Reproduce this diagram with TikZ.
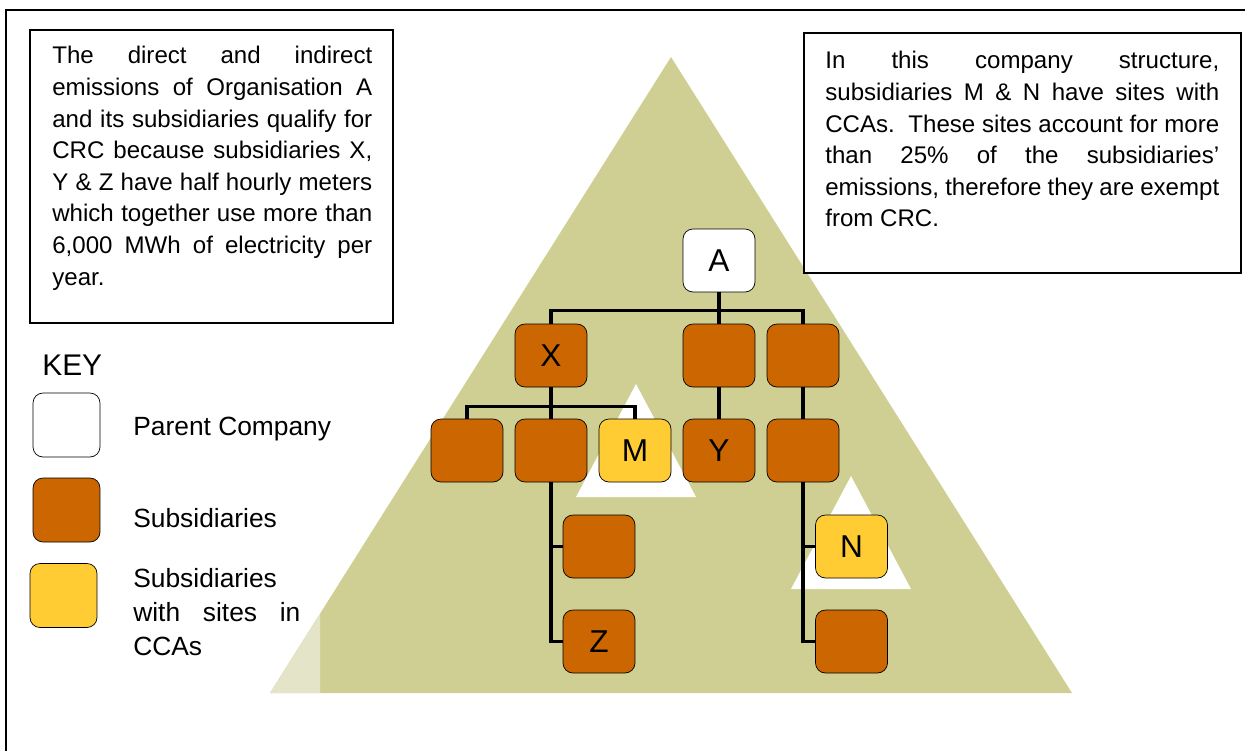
\documentclass[tikz,border=0pt]{standalone}
\usepackage{fontspec}
\setmainfont{Liberation Sans}
\definecolor{pyramid}{HTML}{CFCF93}
\definecolor{pyramidlight}{HTML}{E4E4C8}
\definecolor{subs}{HTML}{CC6600}
\definecolor{cca}{HTML}{FFCC33}
\hyphenpenalty=10000
\begin{document}
\begin{tikzpicture}[x=0.02cm, y=-0.02cm,
            org/.style={draw, rounded corners=0.2cm, minimum width=1.44cm, minimum height=1.26cm, inner sep=0pt, font=\fontsize{18}{21}\selectfont},
            keybox/.style={draw, rounded corners=0.2cm, minimum width=1.34cm, minimum height=1.28cm},
            note/.style={align=justify, inner sep=0pt, anchor=north west, font=\fontsize{13.7}{18}\selectfont},
            keytext/.style={anchor=base west, inner sep=0pt, font=\fontsize{15}{19.3}\selectfont},
            link/.style={line width=1.8pt}
        ]
        \useasboundingbox (0,0) rectangle (1245,751);

        % Frame, cut at the right and bottom
        \draw[line width=1pt] (6,751) -- (6,10) -- (1245,10);

        % Pyramid with the light strip at its left corner
        \fill[pyramid] (270,693) -- (671,57) -- (1072,693) -- cycle;
        \fill[pyramidlight] (270,693) -- (320,614) -- (320,693) -- cycle;

        % White triangles behind the CCA subsidiaries
        \foreach \cx/\cy in {636/384, 851/476} {
                \fill[white] (\cx,\cy) -- ++(60,113) -- ++(-120,0) -- cycle;
            }

        % Explanation boxes
        \draw[line width=0.8pt] (30,30) rectangle (393,323);
        \node[note, text width=6.4cm] (qualify) at (52,46) {The direct and indirect\linebreak emissions of Organisation A\linebreak and its subsidiaries qualify for\linebreak CRC because subsidiaries X,\linebreak Y \& Z have half hourly meters\linebreak which together use more than\linebreak 6,000 MWh of electricity per\linebreak year.};
        \draw[line width=0.8pt, fill=white] (804,33) rectangle (1241,273);
        \node[note, text width=7.88cm] (exempt) at (825,51) {In this company structure,\linebreak subsidiaries M \& N have sites with\linebreak CCAs.\ \ These sites account for more\linebreak than 25\% of the subsidiaries'\linebreak emissions, therefore they are exempt\linebreak from CRC.};

        % Key
        \node[anchor=base west, inner sep=0pt, font=\fontsize{17}{20}\selectfont] (key) at (42,375) {KEY};
        \node[keybox, fill=white] (kparent) at (66.5,425) {};
        \node[keybox, fill=subs] (ksubs) at (66.5,510) {};
        \node[keybox, fill=cca] (kcca) at (63.5,595.5) {};
        \node[keytext] (lparent) at (133,435) {Parent Company};
        \node[keytext] (lsubs) at (133,527) {Subsidiaries};
        \node[note, keytext, anchor=north west, text width=3.34cm] (lcca) at (133,568) {Subsidiaries\newline with sites in\linebreak CCAs};

        % Company tree
        \node[org, fill=white] (A) at (719,260.5) {A};
        \node[org, fill=subs] (X) at (551,355.5) {X};
        \node[org, fill=subs] (S1) at (719,355.5) {};
        \node[org, fill=subs] (S2) at (803,355.5) {};
        \node[org, fill=subs] (X1) at (467,450.5) {};
        \node[org, fill=subs] (X2) at (551,450.5) {};
        \node[org, fill=cca] (M) at (635,450.5) {M};
        \node[org, fill=subs] (Y) at (719,450.5) {Y};
        \node[org, fill=subs] (S3) at (803,450.5) {};
        \node[org, fill=subs] (X3) at (599,546.5) {};
        \node[org, fill=subs] (Z) at (599,641.5) {Z};
        \node[org, fill=cca] (N) at (851.5,546.5) {N};
        \node[org, fill=subs] (S4) at (851.5,641.5) {};

        % Connectors
        \draw[link] (A) -- (S1);
        \draw[link] (X.north) -- ++(0,-13) -| (S2.north);
        \draw[link] (X) -- (X2);
        \draw[link] (X1.north) -- ++(0,-12) -| (M.north);
        \draw[link] (S1) -- (Y);
        \draw[link] (S2) -- (S3);
        \draw[link] (X2.south) |- (Z.west);
        \draw[link] (X2.south |- X3.west) -- (X3.west);
        \draw[link] (S3.south) |- (S4.west);
        \draw[link] (S3.south |- N.west) -- (N.west);
    \end{tikzpicture}
\end{document}
